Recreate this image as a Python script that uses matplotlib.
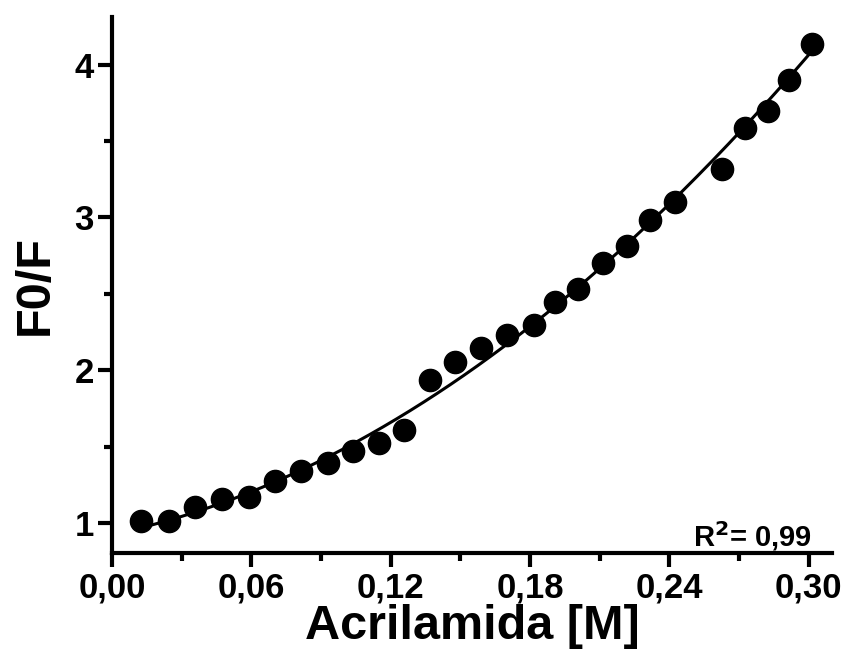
import numpy as np
import matplotlib
matplotlib.use("Agg")
import matplotlib.pyplot as plt

plt.rcParams['font.family'] = ['Liberation Sans', 'DejaVu Sans']
plt.rcParams['font.weight'] = 'bold'

# Data
acrilamida = [0.0123, 0.0243, 0.0359, 0.0475, 0.0591, 0.0703, 0.0815, 0.0931,
              0.1039, 0.1151, 0.1258, 0.1370, 0.1477, 0.1589, 0.1701, 0.1817,
              0.1908, 0.2006, 0.2114, 0.2217, 0.2316, 0.2424, 0.2626, 0.2725,
              0.2824, 0.2914, 0.3013]
f0_f = [1.013, 1.013, 1.104, 1.156, 1.175, 1.279, 1.344, 1.396,
        1.474, 1.526, 1.610, 1.935, 2.052, 2.143, 2.234, 2.299,
        2.448, 2.532, 2.701, 2.815, 2.981, 3.100, 3.318, 3.588,
        3.698, 3.898, 4.133]
# quadratic fit coefficients (a + b*x + c*x^2)
fit_a, fit_b, fit_c = 0.927, 3.207, 24.17

x_ticks = [0.00, 0.06, 0.12, 0.18, 0.24, 0.30]
x_ticklabels = ['0,00', '0,06', '0,12', '0,18', '0,24', '0,30']
y_ticks = [1, 2, 3, 4]
y_ticklabels = ['1', '2', '3', '4']

fig = plt.figure(figsize=(8.49, 6.60), dpi=100)
ax = fig.add_axes([0.132, 0.162, 0.848, 0.812])

xf = np.linspace(min(acrilamida), max(acrilamida), 300)
yf = fit_a + fit_b * xf + fit_c * xf ** 2
ax.plot(xf, yf, color='black', lw=2.2, zorder=2)
ax.plot(acrilamida, f0_f, 'o', color='black', markersize=16, zorder=3, clip_on=False)

ax.set_xlim(0.0, 0.31)
ax.set_ylim(0.805, 4.31)

ax.set_xticks(x_ticks)
ax.set_xticklabels(x_ticklabels)
ax.set_xticks([0.03, 0.09, 0.15, 0.21, 0.27], minor=True)
ax.set_yticks(y_ticks)
ax.set_yticklabels(y_ticklabels)
ax.set_yticks([1.5, 2.5, 3.5], minor=True)

for s in ['top', 'right']:
    ax.spines[s].set_visible(False)
for s in ['left', 'bottom']:
    ax.spines[s].set_linewidth(3)

ax.tick_params(which='major', direction='out', length=10, width=3,
               labelsize=25, pad=3)
ax.tick_params(which='minor', direction='out', length=5.5, width=3)
for lab in ax.get_xticklabels() + ax.get_yticklabels():
    lab.set_fontweight('bold')

ax.set_xlabel('Acrilamida [M]', fontsize=35, fontweight='bold', labelpad=0)
ax.set_ylabel('F0/F', fontsize=35, fontweight='bold', labelpad=12)

ax.text(0.3015, 0.85, r'R$^\mathbf{2}$= 0,99', fontsize=21, fontweight='bold',
        ha='right', va='baseline')

fig.savefig('out.png', dpi=100)
